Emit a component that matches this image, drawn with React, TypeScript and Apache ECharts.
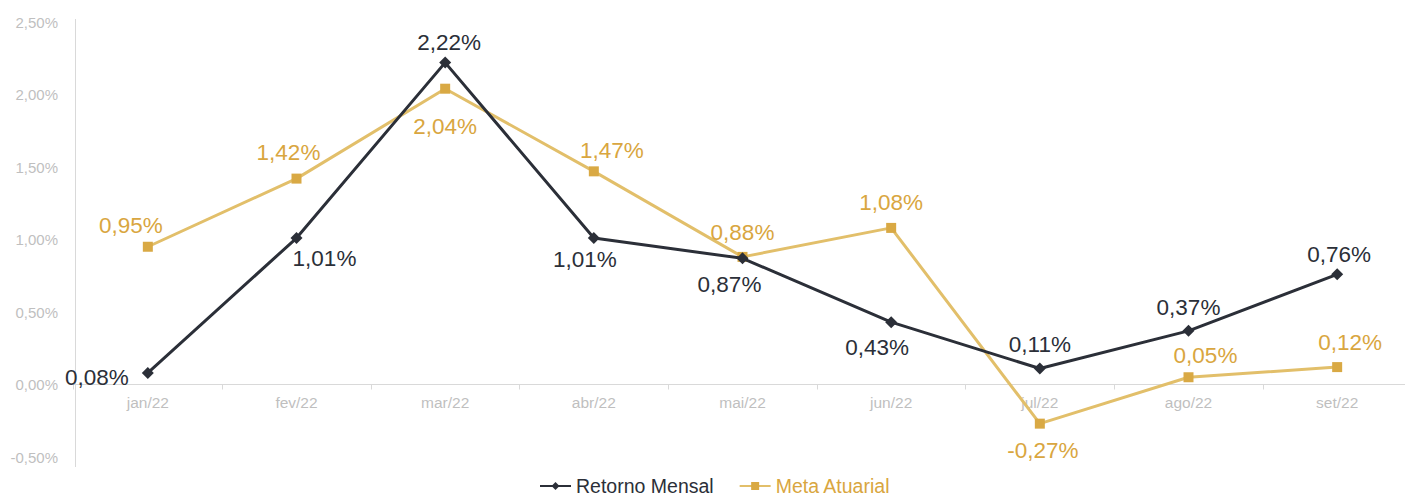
import React, { useEffect, useRef } from "react";
import * as echarts from "echarts";

const categories = ["jan/22", "fev/22", "mar/22", "abr/22", "mai/22", "jun/22", "jul/22", "ago/22", "set/22"];
const retornoMensal = [0.08, 1.01, 2.22, 1.01, 0.87, 0.43, 0.11, 0.37, 0.76];
const metaAtuarial = [0.95, 1.42, 2.04, 1.47, 0.88, 1.08, -0.27, 0.05, 0.12];
const yTicks = [-0.5, 0, 0.5, 1, 1.5, 2, 2.5];

const retornoLabelPos = ["left", "bottom", "top", "bottom", "bottom", "bottom", "top", "top", "top"];
const retornoLabelOff = [[-8, 5], [28, -2], [4, 2], [-9, -1], [-13, 4], [-14, 3], [0, -2], [0, -1], [2, 3]];
const metaLabelPos = ["top", "top", "bottom", "top", "top", "top", "bottom", "top", "top"];
const metaLabelOff = [[-17, 0], [-8, -5], [0, 16], [18, 1], [0, -3], [0, -4], [3, 5], [17, 0], [13, -3]];

const DARK = "#2b2f38";
const GOLD_LINE = "#e2bf6a";
const GOLD_MARK = "#d9a944";
const GOLD_TEXT = "#d9a640";
const FONT = "'Liberation Sans', Arial, sans-serif";

const fmt = (v: number) => v.toFixed(2).replace(".", ",") + "%";

export default function App() {
  const ref = useRef<HTMLDivElement>(null);
  useEffect(() => {
    if (!ref.current) return;
    const chart = echarts.init(ref.current, undefined, { renderer: "svg" });
    chart.setOption({
      animation: false,
      textStyle: { fontFamily: FONT },
      grid: { left: 73.5, top: 22, bottom: 40, width: 1338 },
      legend: {
        bottom: -4,
        left: 534,
        itemWidth: 31,
        itemHeight: 10,
        itemGap: 25,
        textStyle: { fontSize: 19.5, fontFamily: FONT },
        data: [
          { name: "Retorno Mensal", textStyle: { color: DARK } },
          { name: "Meta Atuarial", textStyle: { color: GOLD_TEXT } },
        ],
      },
      graphic: [
        {
          type: "line",
          shape: { x1: 75.5, y1: 19, x2: 75.5, y2: 467 },
          style: { stroke: "#d9d9d9", lineWidth: 1 },
          z: 0,
        },
      ],
      xAxis: {
        type: "category",
        data: categories,
        boundaryGap: true,
        offset: -72.5,
        axisLine: { show: true, onZero: false, lineStyle: { color: "#d9d9d9" } },
        axisTick: { show: true, length: 5, lineStyle: { color: "#d9d9d9" } },
        axisLabel: { color: "#bfbfbf", fontSize: 15.5, margin: 10, fontFamily: FONT },
        splitLine: { show: false },
      },
      yAxis: {
        type: "value",
        min: yTicks[0],
        max: yTicks[yTicks.length - 1],
        interval: 0.5,
        axisLine: { show: false },
        axisTick: { show: false },
        splitLine: { show: false },
        axisLabel: { color: "#bfbfbf", fontSize: 15, margin: 15.5, formatter: (v: number) => fmt(v), fontFamily: FONT },
      },
      series: [
        {
          name: "Retorno Mensal",
          type: "line",
          data: retornoMensal.map((v, i) => ({
            value: v,
            label: { position: retornoLabelPos[i], offset: retornoLabelOff[i] },
          })),
          symbol: "diamond",
          symbolSize: 12,
          lineStyle: { color: DARK, width: 3 },
          itemStyle: { color: DARK },
          label: {
            show: true,
            fontSize: 22.5,
            color: DARK,
            fontFamily: FONT,
            formatter: (p: any) => fmt(p.value),
          },
          z: 3,
        },
        {
          name: "Meta Atuarial",
          type: "line",
          data: metaAtuarial.map((v, i) => ({
            value: v,
            label: { position: metaLabelPos[i], offset: metaLabelOff[i] },
          })),
          symbol: "rect",
          symbolSize: 10,
          lineStyle: { color: GOLD_LINE, width: 3 },
          itemStyle: { color: GOLD_MARK },
          label: {
            show: true,
            fontSize: 22.5,
            color: GOLD_TEXT,
            fontFamily: FONT,
            formatter: (p: any) => fmt(p.value),
          },
          z: 2,
        },
      ],
    });
    return () => chart.dispose();
  }, []);
  return (
    <div style={{ position: "absolute", left: 0, top: 0, width: 1405, height: 497, overflow: "hidden", background: "#fff" }}>
      <div ref={ref} style={{ width: 1420, height: 497 }} />
    </div>
  );
}
